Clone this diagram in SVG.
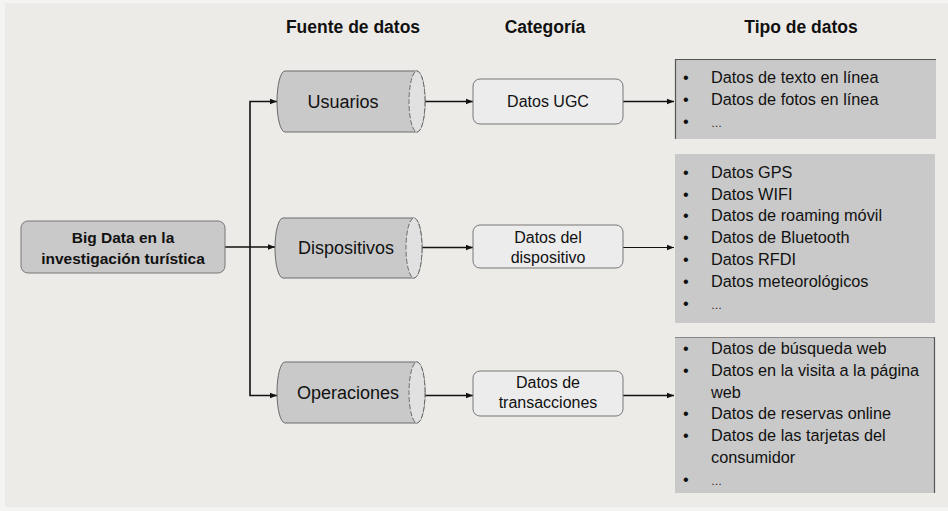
<svg xmlns="http://www.w3.org/2000/svg" width="948" height="511" viewBox="0 0 948 511">
<style>
.hdr{font-family:"Liberation Sans",Arial,sans-serif;font-weight:bold;font-size:17.5px;fill:#111;text-anchor:middle}
.cyl{fill:#c9c9c9;stroke:#6a6a6a;stroke-width:1}
.cap{fill:#e1e1e1;stroke:#6a6a6a;stroke-width:1;stroke-dasharray:5 2}
.lbl{font-family:"Liberation Sans",Arial,sans-serif;font-size:18px;fill:#111;text-anchor:middle}
.cat{fill:#ececec;stroke:#777;stroke-width:1}
.ctx{font-family:"Liberation Sans",Arial,sans-serif;font-size:16px;fill:#111;text-anchor:middle}
.box{fill:#c9c9c9}
.edge{stroke:#555;stroke-width:1.2}
.lst{font-family:"Liberation Sans",Arial,sans-serif;font-size:16.3px;fill:#111}
.con{fill:none;stroke:#111;stroke-width:1.6}
.thin{fill:none;stroke:#111;stroke-width:1.1}
</style>
<defs>
<marker id="ah" markerUnits="userSpaceOnUse" markerWidth="8" markerHeight="8" refX="7" refY="4" orient="auto">
<path d="M0,1.2 L7,4 L0,6.8 Z" fill="#111"/>
</marker>
</defs>
<rect x="0" y="0" width="948" height="511" fill="#f4f4f3"/>
<rect x="5" y="3" width="943" height="504" fill="#edebe8"/>

<g id="headers">
<text class="hdr" x="353" y="33">Fuente de datos</text>
<text class="hdr" x="545" y="33">Categoría</text>
<text class="hdr" x="801" y="33">Tipo de datos</text>
</g>

<g id="connectors">
<line class="con" x1="225" y1="247" x2="275" y2="247" marker-end="url(#ah)"/>
<polyline class="con" points="250,247 250,101.5 277,101.5" marker-end="url(#ah)"/>
<polyline class="con" points="250,247 250,395.5 277,395.5" marker-end="url(#ah)"/>
<line class="con" x1="425" y1="101.5" x2="473" y2="101.5" marker-end="url(#ah)"/>
<line class="con" x1="422" y1="247.5" x2="473" y2="247.5" marker-end="url(#ah)"/>
<line class="con" x1="425" y1="395.5" x2="473" y2="395.5" marker-end="url(#ah)"/>
<line class="con" x1="623" y1="101.5" x2="674" y2="101.5" marker-end="url(#ah)"/>
<line class="thin" x1="623" y1="247.5" x2="674" y2="247.5" marker-end="url(#ah)"/>
<line class="con" x1="623" y1="395.5" x2="674" y2="395.5" marker-end="url(#ah)"/>
</g>

<g id="node-bigdata">
<rect x="21" y="221" width="204" height="52" rx="7" fill="#c9c9c9" stroke="#777" stroke-width="1"/>
<text x="123" y="243" font-family="Liberation Sans, Arial, sans-serif" font-weight="bold" font-size="15.5" fill="#111" text-anchor="middle">Big Data en la</text>
<text x="123" y="264" font-family="Liberation Sans, Arial, sans-serif" font-weight="bold" font-size="15.5" fill="#111" text-anchor="middle">investigación turística</text>
</g>

<g id="node-usuarios">
<path class="cyl" d="M285,71 L417,71 A8 30.5 0 0 1 417,132 L285,132 A8 30.5 0 0 1 285,71 Z"/>
<ellipse class="cap" cx="417" cy="101.5" rx="8" ry="30.5"/>
<text class="lbl" x="343" y="108">Usuarios</text>
</g>

<g id="node-dispositivos">
<path class="cyl" d="M283,218 L414,218 A8 30 0 0 1 414,278 L283,278 A8 30 0 0 1 283,218 Z"/>
<ellipse class="cap" cx="414" cy="248" rx="8" ry="30"/>
<text class="lbl" x="346" y="254">Dispositivos</text>
</g>

<g id="node-operaciones">
<path class="cyl" d="M285,362 L417,362 A8 30.5 0 0 1 417,423 L285,423 A8 30.5 0 0 1 285,362 Z"/>
<ellipse class="cap" cx="417" cy="392.5" rx="8" ry="30.5"/>
<text class="lbl" x="348" y="399">Operaciones</text>
</g>

<g id="node-ugc">
<rect class="cat" x="473" y="79" width="150" height="45" rx="7"/>
<text class="ctx" x="548" y="107">Datos UGC</text>
</g>

<g id="node-dispositivo">
<rect class="cat" x="473" y="225" width="150" height="43" rx="7"/>
<text class="ctx" x="548" y="243">Datos del</text>
<text class="ctx" x="548" y="263">dispositivo</text>
</g>

<g id="node-transacciones">
<rect class="cat" x="473" y="371" width="150" height="45" rx="7"/>
<text class="ctx" x="548" y="388">Datos de</text>
<text class="ctx" x="548" y="408">transacciones</text>
</g>

<g id="node-tipo-ugc">
<rect class="box" x="675" y="59" width="261" height="80"/>
<line class="edge" x1="675" y1="59.5" x2="936" y2="59.5"/>
<line class="edge" x1="675.5" y1="59" x2="675.5" y2="139"/>
<g class="lst">
<text x="683" y="83">•</text><text x="711" y="83">Datos de texto en línea</text>
<text x="683" y="105">•</text><text x="711" y="105">Datos de fotos en línea</text>
<text x="683" y="127">•</text><text x="711" y="127" font-size="11">…</text>
</g>
</g>

<g id="node-tipo-dispositivo">
<rect class="box" x="675" y="154" width="260" height="169"/>
<g class="lst">
<text x="683" y="178">•</text><text x="711" y="178">Datos GPS</text>
<text x="683" y="200">•</text><text x="711" y="200">Datos WIFI</text>
<text x="683" y="221">•</text><text x="711" y="221">Datos de roaming móvil</text>
<text x="683" y="243">•</text><text x="711" y="243">Datos de Bluetooth</text>
<text x="683" y="265">•</text><text x="711" y="265">Datos RFDI</text>
<text x="683" y="287">•</text><text x="711" y="287">Datos meteorológicos</text>
<text x="683" y="309">•</text><text x="711" y="309" font-size="11">…</text>
</g>
</g>

<g id="node-tipo-transacciones">
<rect class="box" x="675" y="337" width="260" height="156"/>
<line x1="675" y1="337.5" x2="935" y2="337.5" stroke="#888" stroke-width="1"/>
<line class="edge" x1="934.5" y1="337" x2="934.5" y2="493"/>
<g class="lst">
<text x="683" y="354">•</text><text x="711" y="354">Datos de búsqueda web</text>
<text x="683" y="376">•</text><text x="711" y="376">Datos en la visita a la página</text>
<text x="711" y="398">web</text>
<text x="683" y="419">•</text><text x="711" y="419">Datos de reservas online</text>
<text x="683" y="441">•</text><text x="711" y="441">Datos de las tarjetas del</text>
<text x="711" y="463">consumidor</text>
<text x="683" y="485">•</text><text x="711" y="485" font-size="11">…</text>
</g>
</g>
</svg>
